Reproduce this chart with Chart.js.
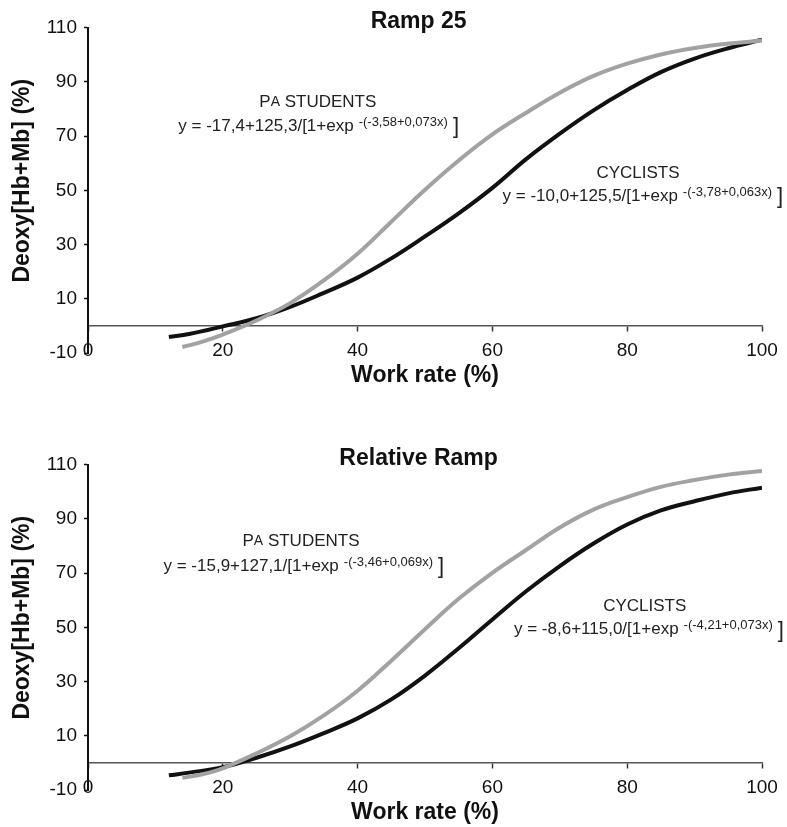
<!DOCTYPE html>
<html>
<head>
<meta charset="utf-8">
<script src="https://cdn.jsdelivr.net/npm/chart.js@4.4.1/dist/chart.umd.min.js"></script>
<style>
  body { margin: 0; background: #fff; }
  .panel { position: absolute; left: 0; width: 787px; height: 390px; }
</style>
</head>
<body>
<div class="panel" style="top:0"><canvas id="ramp25" width="787" height="390"></canvas></div>
<div class="panel" style="top:437px"><canvas id="relRamp" width="787" height="390"></canvas></div>
<script>
// work rate (%) on x, deoxy[Hb+Mb] (%) on y
const xTicks = [0, 20, 40, 60, 80, 100];
const yTicks = [-10, 10, 30, 50, 70, 90, 110];

// Ramp 25
const rampCycX = [12, 15, 20, 25, 30, 35, 40, 45, 50, 55, 60, 65, 70, 75, 80, 85, 90, 95, 100];
const rampCycY = [-4.1, -3.0, -0.2, 2.8, 7.0, 12.2, 17.8, 24.9, 33.0, 41.5, 50.9, 61.5, 70.9, 79.5, 87.0, 93.6, 98.6, 102.4, 105.5];
const rampStuX = [14, 17, 20, 25, 30, 35, 40, 45, 50, 55, 60, 65, 70, 75, 80, 85, 90, 95, 100];
const rampStuY = [-7.8, -5.8, -3.2, 2.0, 8.4, 16.8, 26.6, 38.4, 50.2, 61.0, 70.6, 78.6, 86.0, 92.2, 96.7, 100.1, 102.5, 104.1, 105.2];

// Relative ramp
const relCycX = [12, 15, 20, 25, 30, 35, 40, 45, 50, 55, 60, 65, 70, 75, 80, 85, 90, 95, 100];
const relCycY = [-4.6, -3.6, -1.6, 1.9, 6.1, 11.0, 16.4, 23.4, 32.2, 42.3, 52.9, 63.3, 72.6, 80.9, 87.9, 93.1, 96.5, 99.4, 101.5];
const relStuX = [14, 17, 20, 25, 30, 35, 40, 45, 50, 55, 60, 65, 70, 75, 80, 85, 90, 95, 100];
const relStuY = [-5.5, -4.2, -2.0, 3.5, 9.8, 17.5, 26.6, 37.7, 49.3, 60.5, 70.1, 78.5, 86.8, 93.4, 98.0, 101.8, 104.3, 106.3, 107.6];

// fitted equations printed next to the curves
const rampStuEq = ["y = -17,4+125,3/[1+exp", "-(-3,58+0,073x)"];
const rampCycEq = ["y = -10,0+125,5/[1+exp", "-(-3,78+0,063x)"];
const relStuEq = ["y = -15,9+127,1/[1+exp", "-(-3,46+0,069x)"];
const relCycEq = ["y = -8,6+115,0/[1+exp", "-(-4,21+0,073x)"];

const FONT = "'Liberation Sans', Arial, Helvetica, sans-serif";
const GREY = "#a2a2a2";
const BLACK = "#111111";

function pts(xs, ys) {
  return xs.map((x, i) => ({ x: x, y: ys[i] }));
}

// group name + equation drawn at data positions
const fitLabels = {
  id: "fitLabels",
  afterDatasetsDraw(chart, args, opts) {
    const ctx = chart.ctx;
    const sx = chart.scales.x;
    const sy = chart.scales.y;
    ctx.save();
    ctx.fillStyle = "#222";
    ctx.textBaseline = "middle";
    ctx.textAlign = "left";
    opts.items.forEach((it) => {
      // name, "PA" has a smaller A
      let w = 0;
      it.name.forEach((p) => {
        ctx.font = (p.small ? 14 : 17) + "px " + FONT;
        w += ctx.measureText(p.t).width;
      });
      let px = sx.getPixelForValue(it.nameAt[0]) - w / 2;
      const ny = sy.getPixelForValue(it.nameAt[1]);
      it.name.forEach((p) => {
        ctx.font = (p.small ? 14 : 17) + "px " + FONT;
        ctx.fillText(p.t, px, ny);
        px += ctx.measureText(p.t).width;
      });

      // equation with raised exponent and a tall closing bracket
      let ex = sx.getPixelForValue(it.eqAt[0]);
      const ey = sy.getPixelForValue(it.eqAt[1]);
      ctx.font = "17px " + FONT;
      ctx.fillText(it.eq[0], ex, ey);
      ex += ctx.measureText(it.eq[0]).width + 5;
      ctx.font = "13px " + FONT;
      ctx.fillText(it.eq[1], ex, ey - 4);
      ex += ctx.measureText(it.eq[1]).width + 5;
      ctx.font = "22px " + FONT;
      ctx.fillText("]", ex, ey + 1);
    });
    ctx.restore();
  },
};

function makeChart(id, title, cycX, cycY, stuX, stuY, items) {
  return new Chart(document.getElementById(id), {
    type: "line",
    data: {
      datasets: [
        {
          label: "PA students",
          data: pts(stuX, stuY),
          borderColor: GREY,
          borderWidth: 4,
          pointRadius: 0,
          tension: 0.4,
        },
        {
          label: "Cyclists",
          data: pts(cycX, cycY),
          borderColor: BLACK,
          borderWidth: 4,
          pointRadius: 0,
          tension: 0.4,
        },
      ],
    },
    options: {
      responsive: false,
      animation: false,
      layout: { padding: { left: 0, right: 25, top: 0, bottom: 37 } },
      plugins: {
        legend: { display: false },
        tooltip: { enabled: false },
        title: {
          display: true,
          text: title + "  ", // nudges the centred title a little left
          fullSize: false,
          color: BLACK,
          font: { family: FONT, size: 23, weight: "bold" },
          padding: { top: 8, bottom: -8 },
        },
        fitLabels: { items: items },
      },
      scales: {
        x: {
          type: "linear",
          position: { y: 0 },
          min: 0,
          max: 100,
          afterBuildTicks: (axis) => {
            axis.ticks = xTicks.map((v) => ({ value: v }));
          },
          border: { display: true, color: "#555", width: 1.5 },
          grid: { drawOnChartArea: false, drawTicks: true, tickLength: 5, tickColor: "#333", tickWidth: 1.5 },
          ticks: { color: BLACK, padding: 8, maxRotation: 0, font: { family: FONT, size: 19 } },
          title: {
            display: true,
            text: "Work rate (%)",
            color: BLACK,
            padding: { top: -8, bottom: 0 },
            font: { family: FONT, size: 23, weight: "bold" },
          },
        },
        y: {
          type: "linear",
          min: -10,
          max: 110,
          afterBuildTicks: (axis) => {
            axis.ticks = yTicks.map((v) => ({ value: v }));
          },
          afterFit: (axis) => {
            axis.width = 88;
          },
          border: { display: true, color: BLACK, width: 2 },
          grid: { drawOnChartArea: false, drawTicks: true, tickLength: 4, tickColor: BLACK, tickWidth: 1.5 },
          ticks: { color: BLACK, padding: 7, font: { family: FONT, size: 19 } },
          title: {
            display: true,
            // leading spaces lift the rotated title a bit above the axis centre
            text: "   Deoxy[Hb+Mb] (%)",
            color: BLACK,
            padding: { top: 9, bottom: 0 },
            font: { family: FONT, size: 23, weight: "bold" },
          },
        },
      },
    },
    plugins: [fitLabels],
  });
}

const studentName = [{ t: "P" }, { t: "A", small: true }, { t: " STUDENTS" }];
const cyclistName = [{ t: "CYCLISTS" }];

makeChart("ramp25", "Ramp 25", rampCycX, rampCycY, rampStuX, rampStuY, [
  { name: studentName, nameAt: [34.1, 82.6], eq: rampStuEq, eqAt: [13.4, 73.7] },
  { name: cyclistName, nameAt: [81.6, 56.4], eq: rampCycEq, eqAt: [61.5, 47.8] },
]);

makeChart("relRamp", "Relative Ramp", relCycX, relCycY, relStuX, relStuY, [
  { name: studentName, nameAt: [31.6, 81.8], eq: relStuEq, eqAt: [11.2, 72.5] },
  { name: cyclistName, nameAt: [82.6, 57.8], eq: relCycEq, eqAt: [63.2, 49.2] },
]);
</script>
</body>
</html>
